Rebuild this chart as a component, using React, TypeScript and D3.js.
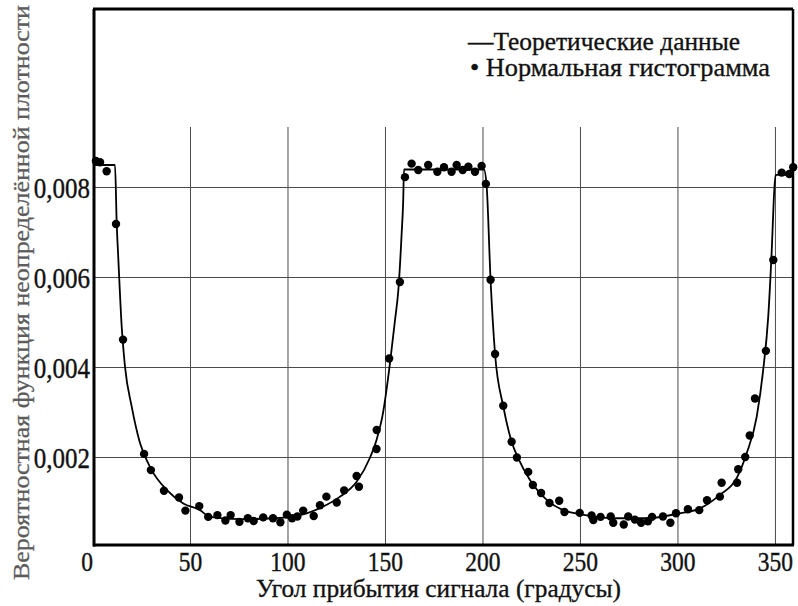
import React from 'react';
import * as d3 from 'd3';

// Theoretical density curve (angle in degrees, density value)
const theoryAngles = [0, 11.28, 12.15, 12.97, 14.72, 16.41, 19.85, 24.1, 30.1, 37.8, 46.3, 54.9, 60.0, 75.4, 92.5, 101.0, 109.6, 118.1, 126.7, 135.2, 142.1, 145.4, 148.7, 152.3, 154.9, 156.6, 158.3, 159.1, 159.5, 200.5, 201.9, 203.9, 206.2, 210.4, 214.7, 218.1, 224.1, 232.7, 241.2, 249.7, 266.8, 283.9, 301.0, 311.3, 321.5, 330.1, 335.2, 340.4, 343.7, 346.3, 348.1, 349.4, 350.1, 359];
const theoryValues = [0.0085, 0.0085, 0.00721, 0.00643, 0.00491, 0.00402, 0.00313, 0.00232, 0.00172, 0.00128, 0.00098, 0.00083, 0.00068, 0.00063, 0.00065, 0.00068, 0.00076, 0.00091, 0.00113, 0.00146, 0.002, 0.00239, 0.00298, 0.00409, 0.00506, 0.00572, 0.00698, 0.00772, 0.0084, 0.0084, 0.00802, 0.00594, 0.0043, 0.00314, 0.00235, 0.00198, 0.0015, 0.00106, 0.00083, 0.00074, 0.00065, 0.00065, 0.00076, 0.00087, 0.00117, 0.00154, 0.00209, 0.00291, 0.00394, 0.00513, 0.00661, 0.00794, 0.00828, 0.00828];

// Normal histogram points
const histAngles = [1.5, 3.6, 7.0, 11.8, 15.4, 26.2, 29.7, 36.4, 44.1, 47.4, 54.5, 59.1, 63.8, 67.9, 70.6, 75.1, 79.4, 82.4, 87.3, 92.3, 96.1, 99.4, 102.1, 104.8, 107.8, 113.2, 116.4, 119.7, 125.0, 128.8, 135.2, 136.4, 145.4, 145.5, 151.9, 157.4, 160.0, 163.4, 166.8, 171.9, 176.6, 180.0, 183.9, 186.5, 189.6, 192.5, 195.9, 199.3, 201.5, 203.9, 206.2, 210.4, 214.7, 217.4, 223.2, 225.6, 229.8, 234.1, 239.1, 241.8, 249.6, 255.7, 256.6, 260.3, 265.5, 266.8, 272.2, 274.5, 277.9, 281.1, 284.6, 286.7, 292.3, 296.1, 299.0, 305.1, 310.9, 314.9, 321.5, 322.4, 330.3, 330.9, 334.5, 336.8, 339.5, 345.1, 348.9, 353.2, 357.1, 359.1];
const histValues = [0.00859, 0.00856, 0.00836, 0.00719, 0.00462, 0.00208, 0.00172, 0.00126, 0.00111, 0.00082, 0.00092, 0.00068, 0.00072, 0.0006, 0.00072, 0.00057, 0.00065, 0.00059, 0.00067, 0.00065, 0.00056, 0.00073, 0.00065, 0.00069, 0.00082, 0.0007, 0.00094, 0.00113, 0.001, 0.00127, 0.00159, 0.00135, 0.00219, 0.00261, 0.0042, 0.0059, 0.00823, 0.00853, 0.00839, 0.0085, 0.00835, 0.00845, 0.00835, 0.0085, 0.00839, 0.00846, 0.00835, 0.00848, 0.00808, 0.00595, 0.0043, 0.00315, 0.00235, 0.002, 0.00168, 0.00139, 0.00121, 0.00099, 0.00104, 0.00079, 0.00077, 0.00071, 0.00061, 0.00068, 0.00069, 0.00055, 0.00051, 0.00069, 0.00062, 0.00055, 0.00058, 0.00068, 0.00069, 0.00055, 0.00076, 0.00085, 0.00083, 0.00105, 0.00113, 0.00144, 0.00144, 0.00174, 0.00201, 0.00249, 0.00331, 0.00437, 0.00639, 0.00833, 0.0083, 0.00845];

const xTicks = [0, 50, 100, 150, 200, 250, 300, 350];
const xTickLabels = ['0', '50', '100', '150', '200', '250', '300', '350'];
const yTicks = [0.002, 0.004, 0.006, 0.008];
const yTickLabels = ['0,002', '0,004', '0,006', '0,008'];
const xTitle = 'Угол прибытия сигнала (градусы)';
const yTitle = 'Вероятностная функция неопределённой плотности';
const legendLabels = ['—Теоретические данные', '• Нормальная гистограмма'];

const W = 798;
const H = 606;
const L = 93;
const R = 793;
const T = 9;
const B = 545;
const GRID_TOP = 127;
const SY = 1.15;

export default function App() {
  const x = d3.scaleLinear().domain([0, 359]).range([L, R]);
  const y = d3.scaleLinear().domain([0, 0.012]).range([547.5, 7.5]);

  const theory = theoryAngles.map((a, i) => [a, theoryValues[i]] as [number, number]);
  const line = d3
    .line<[number, number]>()
    .x((d) => x(d[0]))
    .y((d) => y(d[1]))
    .curve(d3.curveMonotoneX);

  const ts = { fontFamily: '"Liberation Serif"' };

  return (
    <svg
      width={W}
      height={H}
      viewBox={`0 0 ${W} ${H}`}
      style={{ position: 'absolute', left: 0, top: 0, background: '#fff' }}
    >
      <rect x={0} y={0} width={W} height={H} fill="#fff" />
      {/* grid */}
      <g stroke="#4a4a4a" strokeWidth={1}>
        {xTicks.slice(1).map((t) => (
          <line key={'gx' + t} x1={x(t)} x2={x(t)} y1={GRID_TOP} y2={B} />
        ))}
        {yTicks.map((t) => (
          <line key={'gy' + t} x1={L} x2={R} y1={y(t)} y2={y(t)} />
        ))}
      </g>
      {/* frame */}
      <line x1={L + 1} x2={L + 1} y1={T} y2={B + 1.5} stroke="#000" strokeWidth={3} />
      <line x1={L} x2={R} y1={T} y2={T} stroke="#000" strokeWidth={3} />
      <line x1={L} x2={R + 1} y1={B} y2={B} stroke="#000" strokeWidth={3} />
      <line x1={R} x2={R} y1={T} y2={B} stroke="#000" strokeWidth={2.5} />

      {/* theoretical curve */}
      <path d={line(theory) || ''} fill="none" stroke="#000" strokeWidth={1.8} />
      {/* histogram points */}
      {histAngles.map((a, i) => (
        <circle key={'p' + i} cx={x(a)} cy={y(histValues[i])} r={4.2} fill="#000" />
      ))}

      {/* x tick labels */}
      {xTicks.map((t, i) => (
        <text
          key={'xl' + t}
          transform={`translate(${x(t) + (i === 0 ? -6 : 0)},${571}) scale(1,${SY})`}
          textAnchor="middle"
          style={ts}
          fontSize={23.5}
          fill="#111"
          stroke="#111"
          strokeWidth={0.35}
        >
          {xTickLabels[i]}
        </text>
      ))}
      {/* y tick labels */}
      {yTicks.map((t, i) => (
        <text
          key={'yl' + t}
          transform={`translate(90,${y(t) + 10}) scale(1,${SY})`}
          textAnchor="end"
          style={ts}
          fontSize={25}
          fill="#111"
          stroke="#111"
          strokeWidth={0.35}
        >
          {yTickLabels[i]}
        </text>
      ))}

      {/* x title */}
      <text
        transform={`translate(438.5,597) scale(1,1.1)`}
        textAnchor="middle"
        style={ts}
        fontSize={23}
        fill="#111"
        stroke="#111"
        strokeWidth={0.3}
        textLength={365}
        lengthAdjust="spacingAndGlyphs"
      >
        {xTitle}
      </text>
      {/* y title */}
      <text
        transform={`translate(28.5,292.5) rotate(-90)`}
        textAnchor="middle"
        style={ts}
        fontSize={24}
        fill="#5c5c5c"
        stroke="#5c5c5c"
        strokeWidth={0.3}
        textLength={575}
        lengthAdjust="spacingAndGlyphs"
      >
        {yTitle}
      </text>

      {/* legend */}
      <text
        transform={`translate(468,50) scale(1,1.1)`}
        style={ts}
        fontSize={23}
        fill="#111"
        stroke="#111"
        strokeWidth={0.3}
        textLength={272}
        lengthAdjust="spacingAndGlyphs"
      >
        {legendLabels[0]}
      </text>
      <text
        transform={`translate(470,76) scale(1,1.1)`}
        style={ts}
        fontSize={23}
        fill="#111"
        stroke="#111"
        strokeWidth={0.3}
        textLength={300}
        lengthAdjust="spacingAndGlyphs"
      >
        {legendLabels[1]}
      </text>
    </svg>
  );
}
